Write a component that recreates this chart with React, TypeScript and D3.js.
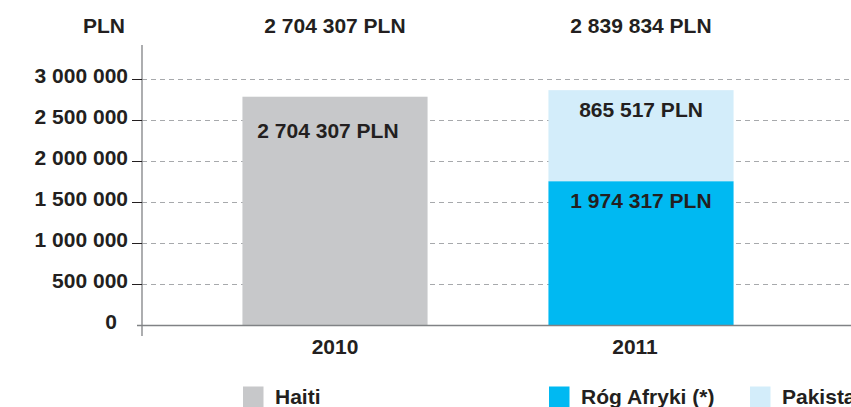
import React from "react";
import * as d3 from "d3";

// ---- data ----
const categories = ["2010", "2011"];
const seriesNames = ["Haiti", "Róg Afryki (*)", "Pakistan"];
// bar heights as drawn in the picture (PLN)
const haiti = [2790000, 0];
const rogAfryki = [0, 1760000];
const pakistan = [0, 1110000];
const totalLabels = ["2 704 307 PLN", "2 839 834 PLN"];
const segmentLabels = [
  ["2 704 307 PLN", "", ""],
  ["", "1 974 317 PLN", "865 517 PLN"],
];
const yTicks = [0, 500000, 1000000, 1500000, 2000000, 2500000, 3000000];
const yTickLabels = ["0", "500 000", "1 000 000", "1 500 000", "2 000 000", "2 500 000", "3 000 000"];
const unitLabel = "PLN";

// ---- styles ----
const W = 851;
const H = 407;
const colors = ["#c7c8ca", "#00b9f2", "#d3edfa"];
const textColor = "#231f20";
const font = "'Liberation Sans', Arial, Helvetica, sans-serif";
const fontSize = 21;
const axisX = 142;
const labelDy = [[41, 0, 0], [0, 27, 26.5]];
const legendX = [243, 549, 750];

export default function App() {
  const y = d3.scaleLinear().domain([0, 3000000]).range([325.5, 79.5]);
  const x = d3
    .scaleBand<string>()
    .domain(categories)
    .range([182, 794])
    .paddingInner(0.395)
    .paddingOuter(0.1975);

  const rows = categories.map((c, i) => ({
    cat: c,
    s0: haiti[i],
    s1: rogAfryki[i],
    s2: pakistan[i],
  }));
  const stack = d3.stack<any>().keys(["s0", "s1", "s2"]);
  const layers = stack(rows);

  return (
    <svg
      width={W}
      height={H}
      style={{ position: "fixed", left: 0, top: 0, background: "#fff" }}
      fontFamily={font}
      fontWeight="bold"
      fontSize={fontSize}
    >
      <rect x={0} y={0} width={W} height={H} fill="#fff" />
      {/* gridlines */}
      {yTicks.slice(1).map((t) => (
        <line
          key={"g" + t}
          x1={axisX}
          x2={W}
          y1={y(t)}
          y2={y(t)}
          stroke="#a7a9ac"
          strokeWidth={1}
          strokeDasharray="5,4"
        />
      ))}
      {/* bars */}
      {layers.map((layer, li) =>
        layer.map((d, ci) => {
          const h = y(d[0]) - y(d[1]);
          if (h <= 0) return null;
          return (
            <rect
              key={`b${li}-${ci}`}
              x={x(categories[ci])}
              y={y(d[1])}
              width={x.bandwidth()}
              height={h}
              fill={colors[li]}
            />
          );
        })
      )}
      {/* segment labels */}
      {layers.map((layer, li) =>
        layer.map((d, ci) => {
          const lbl = segmentLabels[ci][li];
          if (!lbl) return null;
          const cx = (x(categories[ci]) as number) + x.bandwidth() / 2 - (li === 0 ? 7 : 0);
          return (
            <text
              key={`l${li}-${ci}`}
              x={cx}
              y={y(d[1]) + labelDy[ci][li]}
              textAnchor="middle"
              fill={textColor}
            >
              {lbl}
            </text>
          );
        })
      )}
      {/* axes */}
      <line x1={axisX} x2={axisX} y1={45} y2={336} stroke="#808285" strokeWidth={1.3} />
      <line x1={137} x2={W} y1={y(0)} y2={y(0)} stroke="#808285" strokeWidth={1.3} />
      {yTicks.map((t, i) => (
        <g key={"t" + t}>
          {t !== 0 && (
            <line x1={132} x2={axisX} y1={y(t)} y2={y(t)} stroke={textColor} strokeWidth={1} />
          )}
          <text
            x={t === 0 ? 117 : 128}
            y={y(t) + 3.8}
            textAnchor="end"
            fill={textColor}
          >
            {yTickLabels[i]}
          </text>
        </g>
      ))}
      <text x={104} y={33} textAnchor="middle" fill={textColor}>
        {unitLabel}
      </text>
      {/* totals */}
      {categories.map((c, i) => (
        <text
          key={"tot" + c}
          x={(x(c) as number) + x.bandwidth() / 2}
          y={33}
          textAnchor="middle"
          fill={textColor}
        >
          {totalLabels[i]}
        </text>
      ))}
      {/* category labels */}
      {categories.map((c) => (
        <text
          key={"c" + c}
          x={(x(c) as number) + x.bandwidth() / 2 - (c === "2011" ? 6 : 0)}
          y={354}
          textAnchor="middle"
          fill={textColor}
        >
          {c}
        </text>
      ))}
      {/* legend */}
      {seriesNames.map((n, i) => (
        <g key={"lg" + n}>
          <rect x={legendX[i]} y={386.5} width={20.5} height={21} fill={colors[i]} />
          <text x={legendX[i] + 32} y={404} fill={textColor}>
            {n}
          </text>
        </g>
      ))}
    </svg>
  );
}
